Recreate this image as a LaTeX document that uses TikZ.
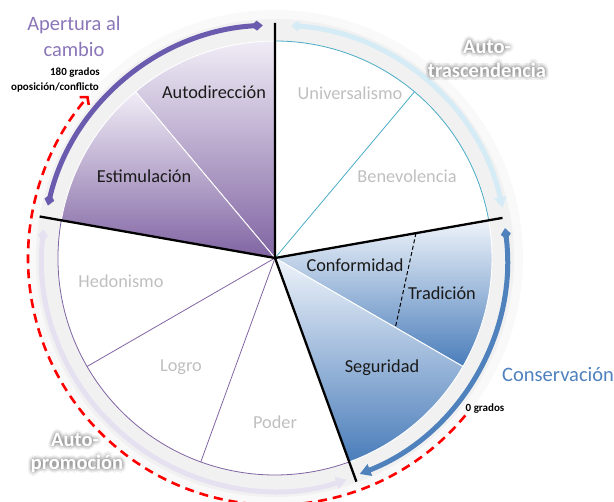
\documentclass[tikz,border=0pt]{standalone}
\usepackage{fontspec}
\setmainfont{Carlito}
\usetikzlibrary{arrows.meta}
\definecolor{purp}{HTML}{8064A2}
\definecolor{purptop}{HTML}{F0ECF6}
\definecolor{purparc}{HTML}{6B5BAE}
\definecolor{purptxt}{HTML}{8B76B8}
\definecolor{bluec}{HTML}{4F81BD}
\definecolor{bluetop}{HTML}{EEF3FA}
\definecolor{bluedark}{HTML}{4A7DBA}
\definecolor{cyanl}{HTML}{D5EBF5}
\definecolor{lavl}{HTML}{E6E1F1}
\definecolor{cyanline}{HTML}{4BACC6}
\definecolor{lbl}{HTML}{BFBFBF}
\definecolor{labdark}{HTML}{1A1A1A}
\tikzset{
  seclab/.style={font=\fontsize{18.3}{20}\selectfont, text=labdark, inner sep=0pt},
  graylab/.style={font=\fontsize{18.3}{20}\selectfont, text=lbl, inner sep=0pt},
  grouplab/.style={font=\fontsize{20.5}{22}\selectfont, inner sep=0pt},
  glowsh/.style={font=\fontsize{20.5}{22}\selectfont\bfseries, text=black!70, opacity=0.06, inner sep=0pt},
  glowtxt/.style={font=\fontsize{20.5}{22}\selectfont\bfseries, text=white, inner sep=0pt},
  smalllab/.style={font=\fontsize{11}{12}\selectfont\bfseries, text=black, inner sep=0pt},
  thinline/.style={line width=0.8pt},
  bigarc/.style={line width=5pt},
  blackline/.style={line width=2.3pt, black, line join=miter}
}
\newcommand{\glowlabel}[3]{%
  \foreach \a in {0,30,...,330}{%
    \node[glowsh, shift={(\a:1.6)}] (#1s\a) at (#2) {#3};
    \node[glowsh, shift={(\a:3.6)}] (#1t\a) at (#2) {#3};
  }
  \node[glowtxt] (#1) at (#2) {#3};
}
\begin{document}
\begin{tikzpicture}[x=1pt,y=1pt]
\useasboundingbox (-275,-244) rectangle (339,258);
\coordinate (O) at (0,0);
% gray ring
\fill[gray!5, even odd rule] (O) circle (248) (O) circle (217);
\fill[gray!11, even odd rule] (O) circle (239) (O) circle (217);
% coloured sectors
\shadedraw[top color=purptop, bottom color=purp, draw=white, line width=0.9pt]
  (O) -- (90:217) arc[start angle=90, end angle=130, radius=217] -- cycle;
\shadedraw[top color=purptop, bottom color=purp, draw=white, line width=0.9pt]
  (O) -- (130:217) arc[start angle=130, end angle=170, radius=217] -- cycle;
\shadedraw[top color=bluetop, bottom color=bluedark, draw=white, line width=0.9pt]
  (O) -- (10:217) arc[start angle=10, end angle=-30, radius=217] -- cycle;
\shadedraw[top color=bluetop, bottom color=bluedark, draw=white, line width=0.9pt]
  (O) -- (-30:217) arc[start angle=-30, end angle=-70, radius=217] -- cycle;
% thin outlines
\draw[thinline, cyanline] (10:217) arc[start angle=10, end angle=90, radius=217];
\draw[thinline, cyanline] (O) -- (50:217);
\draw[thinline, purp] (170:217) arc[start angle=170, end angle=290, radius=217];
\draw[thinline, purp] (O) -- (210:217);
\draw[thinline, purp] (O) -- (250:217);
% dashed divider
\coordinate (dA) at (141,24.9);
\coordinate (dB) at (-30:139);
\draw[line width=1pt, dash pattern=on 4pt off 2.5pt] (dA) -- (dB);
% black axes
\coordinate (bT) at (90:235);
\coordinate (bL) at (170:239);
\coordinate (bR) at (10:231);
\coordinate (bB) at (-70:238);
\draw[blackline] (bT) -- (O) -- (bB);
\draw[blackline] (bL) -- (O) -- (bR);
% group arcs
\draw[bigarc, lavl, {Diamond[length=12pt,width=10pt]}-{Triangle[length=11pt,width=12pt]}]
  (173:233) arc[start angle=173, end angle=288, radius=233];
\draw[bigarc, cyanl, {Diamond[length=12pt,width=10pt]}-{Triangle[length=11pt,width=12pt]}]
  (86:233) arc[start angle=86, end angle=12.4, radius=233];
\draw[bigarc, purparc, {Diamond[length=12pt,width=10pt]}-{Diamond[length=12pt,width=10pt]}]
  (93:233) arc[start angle=93, end angle=167, radius=233];
\draw[bigarc, bluec, {Diamond[length=12pt,width=10pt]}-{Triangle[length=11pt,width=12pt]}]
  (7.4:232) arc[start angle=7.4, end angle=-68.6, radius=232];
% red dashed 180 degree arc
\draw[red, line width=2.6pt, dash pattern=on 9pt off 6pt, -{Straight Barb[length=5pt,width=12pt]}]
  (-39.6:247) arc[start angle=-39.6, end angle=-221, radius=247];
% sector labels
\node[seclab] (autod) at (-61,166) {Autodirección};
\node[seclab] (estim) at (-131,82) {Estimulación};
\node[graylab] (univ) at (75,165) {Universalismo};
\node[graylab] (benev) at (132,82) {Benevolencia};
\node[seclab] (conf) at (80,-7) {Conformidad};
\node[seclab] (trad) at (167,-35) {Tradición};
\node[seclab] (segu) at (107,-110) {Seguridad};
\node[graylab] (hedo) at (-154,-23) {Hedonismo};
\node[graylab] (logro) at (-94,-109) {Logro};
\node[graylab] (poder) at (0,-164) {Poder};
% group labels
\node[grouplab, text=purptxt] (aper1) at (-201,233) {Apertura al};
\node[grouplab, text=purptxt] (aper2) at (-201,209) {cambio};
\node[grouplab, text=bluec, anchor=west] (cons) at (227,-117) {Conservación};
\glowlabel{trasA}{212,211}{Auto-}
\glowlabel{trasB}{212,188}{trascendencia}
\glowlabel{promA}{-200,-182}{Auto-}
\glowlabel{promB}{-198,-206}{promoción}
% small labels
\node[smalllab] (cero) at (210,-151) {0 grados};
\node[smalllab] (oc1) at (-200,185) {180 grados};
\node[smalllab] (oc2) at (-220,170) {oposición/conflicto};
\end{tikzpicture}
\end{document}
